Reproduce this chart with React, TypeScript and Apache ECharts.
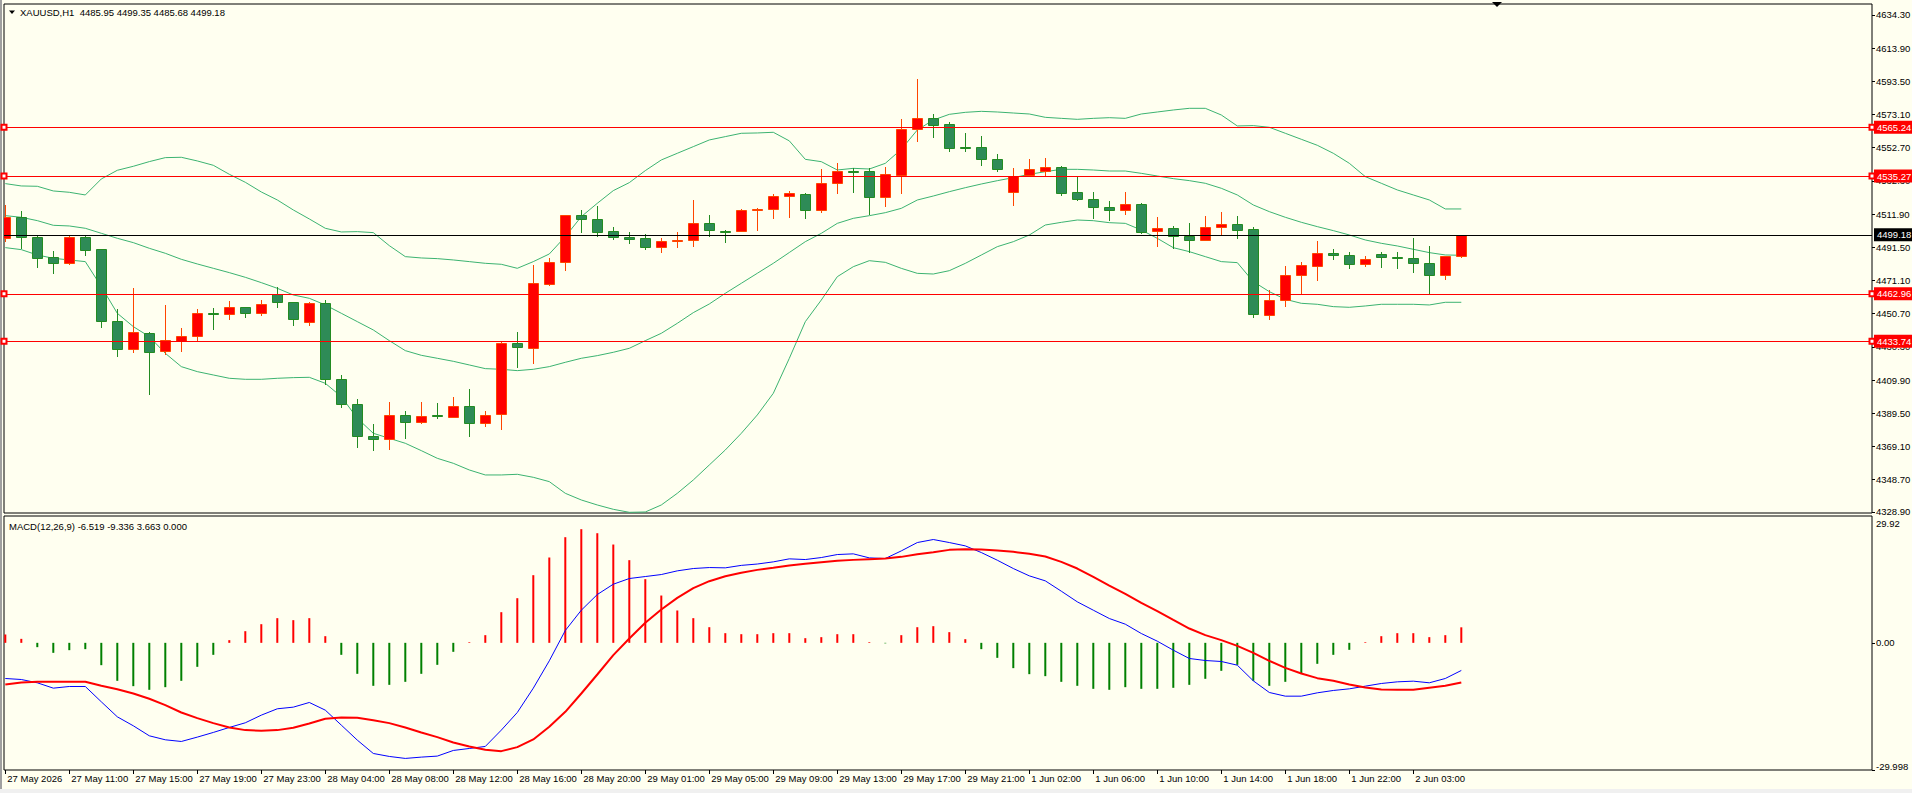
import React, { useEffect, useRef } from 'react';
import * as echarts from 'echarts';

const FONT = '"Liberation Sans", Arial, sans-serif';
const FS = 9.5;

const symbolTitle = 'XAUUSD,H1  4485.95 4499.35 4485.68 4499.18';
const macdTitle = 'MACD(12,26,9) -6.519 -9.336 3.663 0.000';

// hourly bars, 27 May 07:00 .. 2 Jun 06:00
const opens = [4497.03, 4509.93, 4497.85, 4485.36, 4481.67, 4497.85, 4490.27, 4446.23, 4428.82, 4438.65, 4427.59, 4434.15, 4436.81, 4451.15, 4450.33, 4454.63, 4450.94, 4463.03, 4457.70, 4445.41, 4457.09, 4410.39, 4395.02, 4375.36, 4373.72, 4388.26, 4383.96, 4388.26, 4387.03, 4394.00, 4383.35, 4388.88, 4432.51, 4429.84, 4469.17, 4482.69, 4511.16, 4508.71, 4501.33, 4497.85, 4497.03, 4491.50, 4495.19, 4495.80, 4506.25, 4501.54, 4501.33, 4514.24, 4514.85, 4522.84, 4524.27, 4514.65, 4530.83, 4538.41, 4538.20, 4522.63, 4536.15, 4564.01, 4570.77, 4567.08, 4553.16, 4552.95, 4545.58, 4525.30, 4535.95, 4538.61, 4540.66, 4525.30, 4521.00, 4516.28, 4514.24, 4517.92, 4501.33, 4503.18, 4498.46, 4495.80, 4503.79, 4505.63, 4502.56, 4449.71, 4458.93, 4474.29, 4480.03, 4488.02, 4486.58, 4481.05, 4487.20, 4485.36, 4484.74, 4481.67, 4474.29, 4485.95];
const highs = [4517.51, 4513.83, 4498.87, 4489.25, 4499.08, 4498.26, 4490.47, 4453.40, 4466.31, 4439.27, 4456.06, 4441.93, 4453.60, 4454.02, 4458.52, 4454.83, 4458.93, 4466.92, 4457.90, 4457.91, 4458.93, 4412.84, 4398.30, 4382.94, 4396.25, 4390.93, 4396.46, 4395.64, 4399.53, 4404.44, 4390.72, 4433.12, 4439.47, 4480.64, 4484.94, 4511.37, 4514.44, 4516.90, 4503.99, 4500.72, 4499.49, 4497.24, 4500.92, 4520.79, 4511.37, 4502.36, 4515.06, 4515.47, 4524.27, 4526.12, 4524.89, 4539.64, 4543.32, 4540.05, 4540.05, 4540.86, 4570.36, 4594.94, 4573.43, 4568.31, 4561.76, 4559.71, 4548.85, 4540.25, 4545.78, 4546.39, 4541.27, 4534.92, 4525.50, 4519.97, 4525.50, 4518.54, 4510.34, 4504.61, 4506.45, 4510.75, 4513.21, 4510.75, 4503.99, 4465.28, 4480.03, 4482.49, 4495.39, 4490.48, 4488.63, 4486.17, 4488.63, 4488.63, 4497.44, 4492.32, 4486.38, 4499.35];
const lows = [4495.60, 4491.29, 4479.62, 4475.93, 4481.26, 4486.79, 4442.75, 4424.72, 4427.39, 4401.58, 4426.16, 4428.00, 4434.15, 4441.52, 4447.67, 4448.69, 4449.92, 4455.04, 4443.98, 4443.98, 4407.31, 4393.18, 4369.01, 4367.17, 4367.78, 4374.54, 4383.35, 4386.42, 4387.03, 4375.77, 4381.50, 4380.07, 4418.17, 4420.63, 4468.56, 4477.78, 4501.13, 4498.26, 4496.83, 4494.37, 4490.68, 4488.84, 4491.91, 4492.52, 4498.26, 4494.98, 4501.33, 4502.36, 4509.73, 4510.34, 4509.73, 4513.42, 4525.09, 4525.71, 4511.98, 4517.10, 4525.09, 4557.05, 4559.50, 4550.90, 4550.90, 4542.30, 4538.41, 4517.72, 4535.33, 4535.13, 4523.45, 4520.79, 4509.73, 4508.50, 4512.19, 4500.10, 4492.52, 4490.89, 4488.84, 4495.80, 4499.90, 4497.44, 4448.89, 4447.67, 4455.65, 4463.23, 4471.43, 4484.53, 4479.00, 4480.24, 4479.62, 4479.00, 4476.55, 4463.44, 4472.24, 4485.68];
const closes = [4510.34, 4497.64, 4485.15, 4482.08, 4497.85, 4490.07, 4446.03, 4428.82, 4439.27, 4427.39, 4434.35, 4436.81, 4450.94, 4450.33, 4454.63, 4450.94, 4456.47, 4457.70, 4447.26, 4457.09, 4410.39, 4395.02, 4375.36, 4373.52, 4388.26, 4383.96, 4387.65, 4387.65, 4394.00, 4383.35, 4388.26, 4432.51, 4430.46, 4469.38, 4482.28, 4511.16, 4508.71, 4500.72, 4497.64, 4496.42, 4491.50, 4495.19, 4495.80, 4506.25, 4501.95, 4501.13, 4514.24, 4515.06, 4523.25, 4524.68, 4514.65, 4530.83, 4538.20, 4538.00, 4522.63, 4536.36, 4564.01, 4570.77, 4566.47, 4552.75, 4552.75, 4545.58, 4539.43, 4535.13, 4539.43, 4540.66, 4525.09, 4521.41, 4516.08, 4514.24, 4517.92, 4501.13, 4503.18, 4498.26, 4495.80, 4503.79, 4505.63, 4501.95, 4450.33, 4458.93, 4474.29, 4480.44, 4487.81, 4486.58, 4481.05, 4484.13, 4485.36, 4484.74, 4481.67, 4474.29, 4485.95, 4499.18];

const bbUpper = [4530.63, 4529.19, 4528.99, 4526.12, 4525.30, 4523.66, 4533.49, 4538.82, 4541.28, 4544.15, 4546.60, 4546.81, 4544.56, 4541.89, 4536.36, 4531.45, 4525.51, 4520.59, 4514.45, 4508.92, 4503.18, 4500.93, 4501.13, 4500.52, 4492.53, 4485.77, 4484.95, 4484.54, 4483.72, 4482.70, 4481.67, 4481.06, 4478.60, 4482.70, 4487.41, 4498.06, 4510.35, 4518.54, 4526.33, 4531.24, 4538.62, 4545.17, 4549.27, 4553.36, 4557.46, 4559.51, 4561.56, 4561.76, 4562.17, 4556.90, 4545.55, 4544.12, 4539.00, 4540.02, 4539.61, 4543.09, 4551.70, 4563.58, 4569.72, 4573.20, 4574.43, 4575.05, 4574.64, 4574.02, 4573.41, 4571.36, 4570.74, 4570.13, 4570.74, 4571.15, 4570.74, 4573.41, 4574.64, 4575.87, 4576.90, 4576.90, 4572.80, 4566.06, 4566.27, 4565.24, 4561.56, 4557.87, 4554.18, 4549.27, 4543.12, 4534.93, 4530.83, 4526.74, 4523.66, 4520.59, 4515.06, 4515.06];
const bbMiddle = [4510.96, 4509.94, 4507.89, 4505.02, 4504.61, 4503.18, 4500.11, 4497.04, 4494.37, 4490.89, 4487.82, 4484.13, 4481.26, 4478.60, 4475.94, 4473.07, 4469.79, 4466.31, 4462.21, 4460.16, 4456.07, 4450.95, 4445.83, 4440.71, 4434.15, 4428.01, 4425.14, 4423.30, 4421.45, 4419.20, 4416.95, 4416.54, 4415.72, 4416.54, 4418.18, 4420.84, 4423.30, 4424.94, 4426.99, 4429.44, 4434.15, 4438.66, 4444.80, 4451.36, 4456.68, 4463.24, 4469.38, 4475.53, 4481.67, 4488.30, 4494.96, 4500.08, 4506.22, 4509.30, 4510.93, 4512.78, 4515.44, 4520.56, 4523.02, 4525.68, 4528.14, 4530.39, 4532.44, 4534.29, 4536.33, 4537.97, 4539.41, 4539.41, 4539.00, 4538.38, 4538.38, 4536.95, 4535.31, 4533.70, 4532.47, 4530.83, 4527.76, 4523.66, 4517.52, 4513.42, 4509.94, 4506.87, 4504.20, 4501.75, 4499.08, 4496.01, 4493.96, 4492.32, 4490.28, 4488.23, 4486.79, 4486.59];
const bbLower = [4491.30, 4490.07, 4486.79, 4484.75, 4483.72, 4482.70, 4467.34, 4450.95, 4442.76, 4436.61, 4426.37, 4418.18, 4415.10, 4413.05, 4411.01, 4410.39, 4410.39, 4411.01, 4411.42, 4411.62, 4407.93, 4399.74, 4386.43, 4377.21, 4374.14, 4371.07, 4366.56, 4361.85, 4358.78, 4354.68, 4351.61, 4351.61, 4352.02, 4350.17, 4347.51, 4340.34, 4336.24, 4333.17, 4330.51, 4328.66, 4328.87, 4333.17, 4340.34, 4348.53, 4357.75, 4366.97, 4377.21, 4388.48, 4401.79, 4423.26, 4445.80, 4459.11, 4473.45, 4479.59, 4483.28, 4482.26, 4478.57, 4475.50, 4475.09, 4477.14, 4481.64, 4486.76, 4491.89, 4494.96, 4499.05, 4505.20, 4506.84, 4508.27, 4507.86, 4506.63, 4506.22, 4502.13, 4497.01, 4491.27, 4488.84, 4485.77, 4482.70, 4482.08, 4470.41, 4464.26, 4459.55, 4457.09, 4456.48, 4455.04, 4454.63, 4455.45, 4456.48, 4456.48, 4456.48, 4456.07, 4457.71, 4457.71];

const macdMain = [-8.41, -8.65, -9.43, -10.69, -10.30, -10.30, -13.91, -17.45, -19.57, -21.93, -22.87, -23.27, -22.24, -21.14, -19.96, -18.86, -17.06, -15.56, -15.17, -14.07, -15.88, -19.41, -22.95, -26.10, -26.80, -27.27, -26.96, -26.72, -25.39, -24.92, -24.44, -20.59, -16.43, -10.69, -4.24, 2.91, 7.70, 11.40, 13.83, 15.17, 15.64, 16.11, 16.98, 17.53, 17.76, 17.69, 18.27, 18.59, 19.10, 19.81, 19.65, 20.12, 20.83, 20.99, 20.04, 19.89, 21.69, 23.66, 24.37, 23.66, 22.87, 21.30, 19.49, 17.53, 15.80, 14.62, 12.18, 9.67, 7.70, 5.74, 4.40, 2.20, 0.39, -1.73, -3.69, -4.17, -4.40, -5.27, -8.96, -11.71, -12.58, -12.58, -11.79, -11.24, -10.85, -10.22, -9.59, -9.20, -9.04, -9.43, -8.41, -6.52];
const macdSignal = [-9.83, -9.35, -9.20, -9.20, -9.20, -9.20, -10.14, -10.93, -11.95, -13.20, -14.70, -16.43, -17.76, -18.94, -19.96, -20.59, -20.75, -20.59, -20.04, -19.02, -17.92, -17.61, -17.69, -18.24, -18.94, -19.96, -21.14, -22.24, -23.50, -24.44, -25.23, -25.55, -24.60, -22.79, -19.81, -16.27, -11.95, -7.47, -2.91, 1.02, 4.72, 7.86, 10.61, 12.89, 14.54, 15.72, 16.55, 17.21, 17.69, 18.24, 18.63, 19.02, 19.34, 19.57, 19.73, 19.89, 20.28, 20.91, 21.38, 21.93, 22.09, 22.01, 21.77, 21.46, 20.99, 20.36, 19.10, 17.53, 15.56, 13.52, 11.55, 9.43, 7.47, 5.42, 3.38, 1.81, 0.63, -0.71, -2.36, -4.24, -5.90, -7.23, -8.33, -8.96, -9.83, -10.53, -11.00, -11.08, -11.08, -10.61, -10.14, -9.34];
const macdHist = [1.97, 0.94, -1.02, -2.36, -1.73, -1.49, -5.27, -8.96, -10.22, -11.08, -10.46, -8.96, -5.66, -2.83, 0.63, 2.75, 4.40, 5.82, 5.35, 5.82, 1.57, -2.83, -7.31, -10.14, -9.91, -9.20, -7.31, -5.19, -2.12, 0.15, 1.81, 7.23, 10.53, 15.96, 20.13, 24.92, 26.81, 25.86, 23.19, 19.50, 15.02, 11.16, 7.63, 5.82, 3.69, 2.28, 2.04, 2.04, 2.28, 2.28, 1.10, 1.34, 2.04, 2.04, 0.16, -0.12, 1.81, 3.69, 3.93, 2.52, 0.86, -1.49, -3.54, -5.97, -7.39, -7.86, -9.20, -10.14, -10.85, -11.08, -10.46, -10.85, -10.85, -10.61, -9.91, -8.49, -6.60, -5.19, -8.96, -10.14, -9.20, -7.31, -4.95, -2.83, -1.65, 0.15, 1.57, 2.28, 2.28, 1.34, 1.81, 3.66];

const levels = [4565.24, 4535.27, 4462.96, 4433.74];
const bidPrice = 4499.18;

const priceTicks = [4634.30, 4613.90, 4593.50, 4573.10, 4552.70, 4532.30, 4511.90, 4491.50, 4471.10, 4450.70, 4430.30, 4409.90, 4389.50, 4369.10, 4348.70, 4328.90];
const macdTicks = [29.92, 0, -29.998];

const timeLabels = ['27 May 2026', '27 May 11:00', '27 May 15:00', '27 May 19:00', '27 May 23:00', '28 May 04:00', '28 May 08:00', '28 May 12:00', '28 May 16:00', '28 May 20:00', '29 May 01:00', '29 May 05:00', '29 May 09:00', '29 May 13:00', '29 May 17:00', '29 May 21:00', '1 Jun 02:00', '1 Jun 06:00', '1 Jun 10:00', '1 Jun 14:00', '1 Jun 18:00', '1 Jun 22:00', '2 Jun 03:00'];
const labelEvery = 4;

const BG = '#FFFFF0';
const BULL = '#FF0000';
const BULL_EDGE = '#FF4500';
const BEAR = '#2E8B57';
const BEAR_EDGE = '#228B22';
const BAND = '#3CB371';

const X_MIN = -0.08125;
const X_MAX = 116.66875;

function buildOption() {
  const candleData = opens.map((o, i) => [i, o, closes[i], lows[i], highs[i]]);
  const pairs = (arr: number[]) => arr.map((v, i) => [i, v]);
  const tickIdx = timeLabels.map((_, i) => i * labelEvery);
  const txt = { color: '#000', fontSize: FS, fontFamily: FONT };

  return {
    animation: false,
    backgroundColor: BG,
    grid: [
      { left: 4, top: 4, width: 1868, height: 509, show: true, borderColor: '#000', borderWidth: 1, backgroundColor: 'transparent', outerBoundsMode: 'none' },
      { left: 4, top: 516, width: 1868, height: 254, show: true, borderColor: '#000', borderWidth: 1, backgroundColor: 'transparent', outerBoundsMode: 'none' },
    ],
    xAxis: [
      { gridIndex: 0, type: 'value', min: X_MIN, max: X_MAX, show: false, axisLine: { show: false, onZero: false } },
      {
        gridIndex: 1, type: 'value', min: X_MIN, max: X_MAX, position: 'bottom',
        axisLine: { show: false, onZero: false }, splitLine: { show: false },
        axisTick: { show: true, customValues: tickIdx, length: 4, lineStyle: { color: '#000', width: 1 } },
        axisLabel: {
          show: true, customValues: tickIdx, margin: 3, align: 'left', padding: [0, 0, 0, 2], ...txt,
          formatter: (v: number) => timeLabels[Math.round(v / labelEvery)] || '',
        },
      },
    ],
    yAxis: [
      {
        gridIndex: 0, type: 'value', position: 'right', min: 4328.24, max: 4641.0, scale: true,
        splitLine: { show: false }, axisLine: { show: false, onZero: false },
        axisTick: { show: true, customValues: priceTicks, length: 3, lineStyle: { color: '#000' } },
        axisLabel: { show: true, customValues: priceTicks, margin: 4, ...txt, formatter: (v: number) => v.toFixed(2) },
      },
      {
        gridIndex: 1, type: 'value', position: 'right', min: -29.998, max: 29.92,
        splitLine: { show: false }, axisLine: { show: false, onZero: false },
        axisTick: { show: true, customValues: [0, -29.998], length: 3, lineStyle: { color: '#000' } },
        axisLabel: {
          show: true, customValues: macdTicks, margin: 4, ...txt,
          formatter: (v: number) => {
            if (Math.abs(v - 29.92) < 0.001) return '{t|29.92}';
            if (Math.abs(v + 29.998) < 0.001) return '{b|-29.998}';
            return v.toFixed(2);
          },
          rich: {
            t: { ...txt, padding: [14, 0, 0, 0] },
            b: { ...txt, padding: [0, 0, 8, 0] },
          },
        },
      },
    ],
    series: [
      {
        type: 'line', name: 'BB upper', xAxisIndex: 0, yAxisIndex: 0, data: pairs(bbUpper),
        symbol: 'none', lineStyle: { color: BAND, width: 1 }, silent: true, z: 1,
        markLine: {
          silent: true, animation: false,
          symbol: ['emptyRect', 'emptyRect'], symbolSize: 5,
          lineStyle: { color: '#FF0000', width: 1, type: 'solid' },
          label: {
            show: true, position: 'end', distance: 2, color: '#fff', backgroundColor: '#FF0000',
            padding: [2, 10, 1, 3], fontSize: FS, fontFamily: FONT,
            formatter: (p: any) => Number(p.value).toFixed(2),
          },
          data: levels.map((v) => ({ yAxis: v })),
        },
      },
      {
        type: 'line', name: 'BB middle', xAxisIndex: 0, yAxisIndex: 0, data: pairs(bbMiddle),
        symbol: 'none', lineStyle: { color: BAND, width: 1 }, silent: true, z: 1,
        markLine: {
          silent: true, animation: false, symbol: ['none', 'none'],
          lineStyle: { color: '#000', width: 1, type: 'solid' },
          label: {
            show: true, position: 'end', distance: 2, color: '#fff', backgroundColor: '#000',
            padding: [2, 10, 1, 3], fontSize: FS, fontFamily: FONT,
            formatter: (p: any) => Number(p.value).toFixed(2),
          },
          data: [{ yAxis: bidPrice }],
        },
      },
      {
        type: 'line', name: 'BB lower', xAxisIndex: 0, yAxisIndex: 0, data: pairs(bbLower),
        symbol: 'none', lineStyle: { color: BAND, width: 1 }, silent: true, z: 1,
      },
      {
        type: 'custom', name: 'XAUUSD', xAxisIndex: 0, yAxisIndex: 0, data: candleData, clip: true, z: 3,
        encode: { x: 0, y: [1, 2, 3, 4] },
        renderItem: (params: any, api: any) => {
          const k = api.value(0);
          const o = api.value(1);
          const c = api.value(2);
          const l = api.value(3);
          const h = api.value(4);
          const pO = api.coord([k, o]);
          const pC = api.coord([k, c]);
          const pL = api.coord([k, l]);
          const pH = api.coord([k, h]);
          const bw = Math.round(api.size([1, 0])[0] * 0.625);
          const cx = Math.round(pO[0]);
          const up = c >= o;
          const fill = up ? BULL : BEAR;
          const edge = up ? BULL_EDGE : BEAR_EDGE;
          const top = Math.round(Math.min(pO[1], pC[1]));
          const bot = Math.round(Math.max(pO[1], pC[1]));
          return {
            type: 'group',
            children: [
              { type: 'line', shape: { x1: cx + 0.5, y1: Math.round(pH[1]), x2: cx + 0.5, y2: Math.round(pL[1]) + 1 }, style: { stroke: edge, lineWidth: 1 } },
              { type: 'rect', shape: { x: cx - bw / 2 + 0.5, y: top + 0.5, width: bw, height: Math.max(bot - top, 0) }, style: { fill, stroke: edge, lineWidth: 1 } },
            ],
          };
        },
      },
      {
        type: 'bar', name: 'MACD hist', xAxisIndex: 1, yAxisIndex: 1, data: pairs(macdHist), barWidth: 2, silent: true,
        itemStyle: { color: (p: any) => (p.value[1] >= 0 ? '#FF0000' : '#008000') },
      },
      {
        type: 'line', name: 'MACD', xAxisIndex: 1, yAxisIndex: 1, data: pairs(macdMain), symbol: 'none',
        lineStyle: { color: '#0000FF', width: 1 }, silent: true, z: 3,
      },
      {
        type: 'line', name: 'Signal', xAxisIndex: 1, yAxisIndex: 1, data: pairs(macdSignal), symbol: 'none',
        lineStyle: { color: '#FF0000', width: 2 }, silent: true, z: 4,
      },
    ],
    graphic: [
      { type: 'rect', shape: { x: 0, y: 0, width: 2, height: 793 }, style: { fill: '#A0A0A0' }, silent: true },
      { type: 'rect', shape: { x: 0, y: 789, width: 1912, height: 4 }, style: { fill: '#F0F0F0' }, silent: true },
      { type: 'polygon', shape: { points: [[9, 10.5], [15, 10.5], [12, 14]] }, style: { fill: '#000' }, silent: true },
      { type: 'text', x: 20, y: 12.5, style: { text: symbolTitle, fill: '#000', font: `${FS}px ${FONT}`, verticalAlign: 'middle', align: 'left' }, silent: true },
      { type: 'text', x: 9, y: 526, style: { text: macdTitle, fill: '#000', font: `${FS}px ${FONT}`, verticalAlign: 'middle', align: 'left' }, silent: true },
      { type: 'polygon', shape: { points: [[1492, 2], [1502, 2], [1497, 7]] }, style: { fill: '#000' }, silent: true },
    ],
  };
}

export default function App() {
  const ref = useRef<HTMLDivElement>(null);
  useEffect(() => {
    if (!ref.current) return;
    const chart = echarts.init(ref.current, null, { renderer: 'svg' });
    chart.setOption(buildOption() as any);
    return () => chart.dispose();
  }, []);
  return <div ref={ref} style={{ position: 'absolute', left: 0, top: 0, width: 1912, height: 793 }} />;
}
